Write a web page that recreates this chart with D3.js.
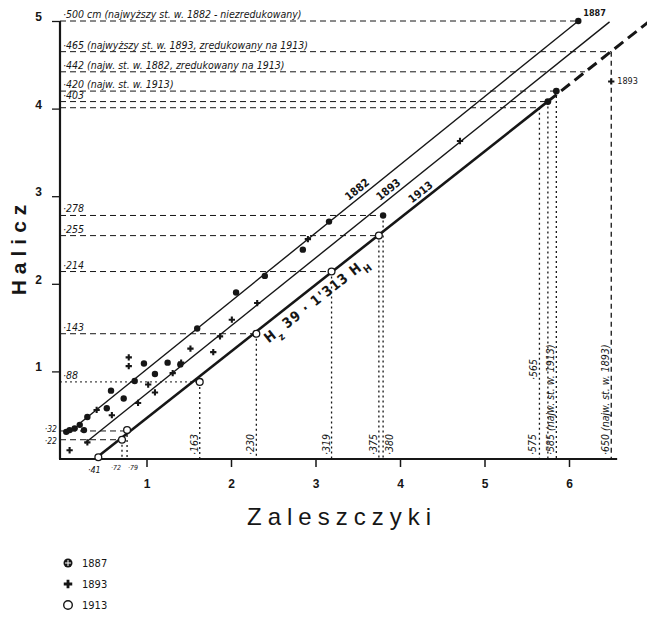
<!DOCTYPE html>
<html>
<head>
<meta charset="utf-8">
<script src="https://cdn.jsdelivr.net/npm/d3@7"></script>
<style>
body { margin: 0; background: #fff; }
svg { font-family: "DejaVu Sans Condensed", "Liberation Sans Narrow", sans-serif; }
.ref { font-style: italic; font-size: 10.5px; fill: #161616; }
.tick text { font-size: 12px; font-weight: bold; fill: #161616; }
</style>
</head>
<body>
<div id="chart"></div>
<script>
// water levels, cm: Zaleszczyki (x) against Halicz (y)

var width = 647,
  height = 618;

var pts1887 = [[5, 31], [9, 33], [15, 35], [21, 39], [26, 33], [30, 48], [53, 58], [58, 78], [73, 69],
  [86, 89], [97, 109], [110, 97], [125, 110], [140, 108], [160, 149], [206, 190], [240, 209],
  [285, 239], [316, 271], [380, 278], [611, 500]];
var pts1893 = [[9, 10], [30, 19], [41, 56], [59, 50], [79, 106], [79, 116], [90, 64], [102, 85],
  [110, 76], [131, 98], [141, 110], [152, 126], [179, 122], [187, 140], [201, 159], [231, 178],
  [291, 251], [471, 363], [650, 431]];
var pts1913 = [[43, 2], [71, 22], [77, 33], [163, 88], [230, 143], [319, 214], [375, 255]];
var max1913 = [[575, 408], [585, 420]];

// fitted lines
var lineNames = ["1882", "1893", "1913"];
var line1882 = [[20, 40], [611, 500]];
var line1893 = [[27, 18], [648, 499]];
var eqA = 39, eqB = 1.313;          // Hz = 39 + 1.313 Hh
var fit1913 = [43, 575, 698];       // solid from, solid to, dashed to (Zaleszczyki cm)

// horizontal reference levels (Halicz) and where they end (Zaleszczyki)
var hVals = [500, 465, 442, 420, 408, 401, 278, 255, 214, 143, 88, 32, 22];
var hEnds = [611, 650, 619, 585, 575, 565, 380, 375, 319, 230, 163, 77, 71];
var hLabels = ["·500 cm (najwyższy st. w. 1882 - niezredukowany)",
  "·465 (najwyższy st. w. 1893, zredukowany na 1913)",
  "·442 (najw. st. w. 1882, zredukowany na 1913)",
  "·420 (najw. st. w. 1913)", "·403", "",
  "·278", "·255", "·214", "·143", "·88", "·32", "·22"];

// vertical reference levels (Zaleszczyki) and their tops (Halicz)
var vVals = [163, 230, 319, 375, 380, 565, 575, 585, 650, 71, 77];
var vTops = [88, 143, 214, 255, 278, 401, 408, 420, 465, 22, 33];
var vLabels = ["·163", "·230", "·319", "·375", "·380", "·565", "·575",
  "·585 (najw. st. w. 1913)", "·650 (najw. st. w. 1893)", "·72", "·79"];

var xTicks = [100, 200, 300, 400, 500, 600];
var yTicks = [100, 200, 300, 400, 500];
var legendYears = ["1887", "1893", "1913"];

var ink = "#161616";

var x = d3.scaleLinear().domain([0, 600]).range([62, 569]);
var y = d3.scaleLinear().domain([0, 500]).range([459, 21]);

var svg = d3.select("#chart").append("svg")
  .attr("width", width)
  .attr("height", height);

function fit(h) { return (h - eqA) / eqB; }
function angle(slope) {
  return -Math.atan(slope * (y(0) - y(100)) / (x(100) - x(0))) * 180 / Math.PI;
}

// reference lines

var refs = svg.append("g");

hVals.forEach(function(v, i) {
  refs.append("line")
    .attr("x1", 60).attr("x2", x(hEnds[i]))
    .attr("y1", y(v)).attr("y2", y(v))
    .attr("stroke", ink).attr("stroke-width", 1)
    .attr("stroke-dasharray", v == 88 ? "2,3" : "6,4");
  if (!hLabels[i]) return;
  if (v < 60) {
    refs.append("text").attr("class", "ref")
      .attr("x", 57).attr("y", y(v) + (v > 25 ? 1 : 4))
      .attr("text-anchor", "end")
      .style("font-size", "8.5px")
      .text(hLabels[i]);
  } else {
    refs.append("text").attr("class", "ref")
      .attr("x", 63).attr("y", y(v) - 3)
      .text(hLabels[i]);
  }
});

var vPlace = { "·380": 1 };
var vStart = { "·565": 380 };

vVals.forEach(function(v, i) {
  refs.append("line")
    .attr("x1", x(v)).attr("x2", x(v))
    .attr("y1", y(vTops[i])).attr("y2", y(0))
    .attr("stroke", ink).attr("stroke-width", 1.3)
    .attr("stroke-dasharray", v == 650 ? "5,4" : "2,3");
  var lab = vLabels[i];
  if (v < 100) {
    // small labels under the axis, one each side of the pair of lines
    refs.append("text").attr("class", "ref")
      .attr("x", v < 75 ? x(v) - 1 : x(v) + 1).attr("y", y(0) + 11)
      .attr("text-anchor", v < 75 ? "end" : "start")
      .style("font-size", "7px")
      .text(lab);
    return;
  }
  var side = vPlace[lab] || -1;
  var bx = side < 0 ? x(v) - 2 : x(v) + 10;
  if (lab == "·575") bx = x(565) - 3;
  var by = vStart[lab] || 455;
  refs.append("text").attr("class", "ref")
    .attr("transform", "translate(" + bx + "," + by + ") rotate(-90)")
    .text(lab);
});

refs.append("text").attr("class", "ref")
  .attr("x", x(pts1913[0][0]) - 4).attr("y", y(0) + 14)
  .attr("text-anchor", "middle")
  .style("font-size", "9px")
  .text("·41");

// axes

var xAxis = svg.append("g")
  .attr("transform", "translate(0," + y(0) + ")")
  .call(d3.axisBottom(x).tickValues(xTicks).tickSize(8).tickPadding(12)
    .tickFormat(function(d) { return d / 100; }));
xAxis.select(".domain").remove();
xAxis.selectAll(".tick line").attr("stroke", ink).attr("stroke-width", 1.5);

var yAxis = svg.append("g")
  .attr("transform", "translate(60,0)")
  .call(d3.axisLeft(y).tickValues(yTicks).tickSize(8).tickPadding(10)
    .tickFormat(function(d) { return d / 100; }));
yAxis.select(".domain").remove();
yAxis.selectAll(".tick line").attr("stroke", ink).attr("stroke-width", 1.3);
yAxis.selectAll(".tick text").attr("dy", "-0.05em");

svg.append("line")
  .attr("x1", 59).attr("x2", x(657)).attr("y1", y(0)).attr("y2", y(0))
  .attr("stroke", ink).attr("stroke-width", 2.2);
svg.append("line")
  .attr("x1", 60).attr("x2", 60).attr("y1", y(500)).attr("y2", y(0))
  .attr("stroke", ink).attr("stroke-width", 2.2);

// fitted lines

var line = d3.line()
  .x(function(d) { return x(d[0]); })
  .y(function(d) { return y(d[1]); });

var lines = svg.append("g").attr("fill", "none").attr("stroke", ink);

lines.append("path").datum(line1882).attr("d", line).attr("stroke-width", 1.4);
lines.append("path").datum(line1893).attr("d", line).attr("stroke-width", 1.4);
lines.append("path")
  .datum([[fit1913[0], fit(fit1913[0])], [fit1913[1], fit(fit1913[1])]])
  .attr("d", line).attr("stroke-width", 2.6);
lines.append("path")
  .datum([[fit1913[1], fit(fit1913[1])], [fit1913[2], fit(fit1913[2])]])
  .attr("d", line).attr("stroke-width", 3).attr("stroke-dasharray", "11,6");

function slopeOf(l) { return (l[1][1] - l[0][1]) / (l[1][0] - l[0][0]); }

var lineData = [line1882, line1893, null];
var labelAt = [355, 392, 430];
lineNames.forEach(function(name, i) {
  var px = labelAt[i];
  var s = lineData[i] ? slopeOf(lineData[i]) : 1 / eqB;
  var py = lineData[i] ? lineData[i][0][1] + s * (px - lineData[i][0][0]) : fit(px);
  svg.append("text")
    .attr("transform", "translate(" + x(px) + "," + y(py) + ") rotate(" + angle(s) + ")")
    .attr("dy", -4)
    .attr("text-anchor", "middle")
    .style("font-size", "11px").style("font-weight", "bold").attr("fill", ink)
    .text(name);
});

var eq = svg.append("text")
  .attr("transform", "translate(" + x(292) + "," + y(fit(292)) + ") rotate(" + angle(1 / eqB) + ")")
  .attr("dy", 17)
  .attr("text-anchor", "middle")
  .style("font-size", "14px").style("font-weight", "bold").style("letter-spacing", "1px")
  .attr("fill", ink);
eq.append("tspan").text("H");
eq.append("tspan").attr("baseline-shift", "sub").style("font-size", "10px").text("z");
eq.append("tspan").text(" 39 · 1'313 H");
eq.append("tspan").attr("baseline-shift", "sub").style("font-size", "10px").text("H");

// points

var marks = svg.append("g");

marks.selectAll("circle.p87").data(pts1887).enter().append("circle")
  .attr("cx", function(d) { return x(d[0]); })
  .attr("cy", function(d) { return y(d[1]); })
  .attr("r", 3.2).attr("fill", ink);

marks.selectAll("path.p93").data(pts1893).enter().append("path")
  .attr("transform", function(d) { return "translate(" + x(d[0]) + "," + y(d[1]) + ")"; })
  .attr("d", d3.symbol(d3.symbolCross, 22))
  .attr("fill", ink);

marks.selectAll("circle.p13").data(pts1913).enter().append("circle")
  .attr("cx", function(d) { return x(d[0]); })
  .attr("cy", function(d) { return y(d[1]); })
  .attr("r", 3.4).attr("fill", "#fff").attr("stroke", ink).attr("stroke-width", 1.3);

marks.selectAll("circle.m13").data(max1913).enter().append("circle")
  .attr("cx", function(d) { return x(d[0]); })
  .attr("cy", function(d) { return y(d[1]); })
  .attr("r", 3.4).attr("fill", ink);

var top87 = pts1887[pts1887.length - 1];
svg.append("text")
  .attr("x", x(top87[0]) + 5).attr("y", y(top87[1]) - 5)
  .style("font-size", "9px").style("font-weight", "bold").attr("fill", ink)
  .text("1887");

var top93 = pts1893[pts1893.length - 1];
svg.append("text")
  .attr("x", x(top93[0]) + 6).attr("y", y(top93[1]) + 3)
  .style("font-size", "9px").attr("fill", ink)
  .text("1893");

// axis titles

svg.append("text")
  .attr("transform", "translate(26,247) rotate(-90)")
  .attr("text-anchor", "middle")
  .style("font-family", "Liberation Sans, Arial, sans-serif")
  .style("font-size", "21px").style("font-weight", "bold").style("letter-spacing", "6px")
  .attr("fill", ink)
  .text("Halicz");

svg.append("text")
  .attr("x", 342).attr("y", 525)
  .attr("text-anchor", "middle")
  .style("font-family", "Liberation Sans, Arial, sans-serif")
  .style("font-size", "24px").style("letter-spacing", "6px")
  .attr("fill", ink)
  .text("Zaleszczyki");

// legend

var legend = svg.selectAll("g.legend")
  .data(legendYears)
  .enter().append("g")
  .attr("class", "legend")
  .attr("transform", function(d, i) { return "translate(68," + [563, 584, 605][i] + ")"; });

legend.each(function(d, i) {
  var g = d3.select(this);
  if (i == 0) {
    g.append("circle").attr("r", 4.5).attr("fill", ink);
    g.append("path").attr("d", "M-3,0H3M0,-3V3").attr("stroke", "#fff").attr("stroke-width", 1);
  } else if (i == 1) {
    g.append("path").attr("d", d3.symbol(d3.symbolCross, 40)).attr("fill", ink);
  } else {
    g.append("circle").attr("r", 4.3).attr("fill", "none").attr("stroke", ink).attr("stroke-width", 1.4);
  }
  g.append("text").attr("x", 14).attr("y", 4)
    .style("font-size", "11px").attr("fill", ink)
    .text(d);
});
</script>
</body>
</html>
